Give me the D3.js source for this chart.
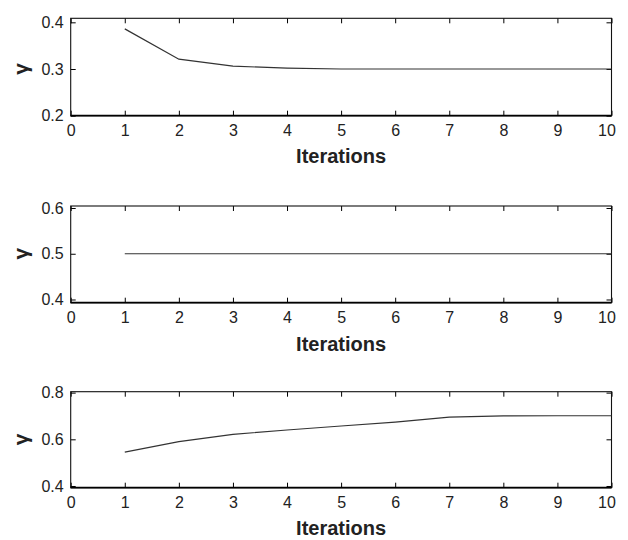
<!DOCTYPE html>
<html>
<head>
<meta charset="utf-8">
<script src="https://cdn.jsdelivr.net/npm/d3@7"></script>
<style>
  body { margin: 0; background: #fff; }
  text { font-family: "Liberation Sans", Arial, sans-serif; }
</style>
</head>
<body>
<svg id="chart" width="628" height="540"></svg>
<script>
// iterations along x
var iters = [1, 2, 3, 4, 5, 6, 7, 8, 9, 10];
var xTicks = [0, 1, 2, 3, 4, 5, 6, 7, 8, 9, 10];

// gamma per iteration, one series per panel
var gamma1 = [0.386, 0.321, 0.306, 0.302, 0.300, 0.300, 0.300, 0.300, 0.300, 0.300];
var gamma2 = [0.5, 0.5, 0.5, 0.5, 0.5, 0.5, 0.5, 0.5, 0.5, 0.5];
var gamma3 = [0.545, 0.590, 0.621, 0.640, 0.657, 0.674, 0.695, 0.700, 0.701, 0.701];

var yTicks1 = [0.2, 0.3, 0.4];
var yTicks2 = [0.4, 0.5, 0.6];
var yTicks3 = [0.4, 0.6, 0.8];

var panels = [
  {vals: gamma1, ticks: yTicks1, dom: [0.2, 0.4086], top: 18.3, bottom: 115.7, lab: 47.5},
  {vals: gamma2, ticks: yTicks2, dom: [0.393, 0.6044], top: 206, bottom: 302.7, lab: 48.5},
  {vals: gamma3, ticks: yTicks3, dom: [0.3927, 0.804], top: 391.7, bottom: 487.7, lab: 47.5}
];

var svg = d3.select("#chart");
var left = 70.7, right = 611.5;

var x = d3.scaleLinear().domain([0, 10]).range([left, right]);
var fmt = d3.format(".1f");

panels.forEach(function(p) {
  var y = d3.scaleLinear().domain(p.dom).range([p.bottom, p.top]);
  var g = svg.append("g");

  // ticks inward on all four sides
  var xa = g.append("g").attr("transform", "translate(0," + p.bottom + ")")
    .call(d3.axisBottom(x).tickValues(xTicks).tickSize(-5).tickPadding(9).tickFormat(d3.format("d")))
    .call(function(a) { a.select(".domain").remove(); });
  g.append("g").attr("transform", "translate(0," + p.top + ")")
    .call(d3.axisTop(x).tickValues(xTicks).tickSize(-5).tickFormat(""))
    .call(function(a) { a.select(".domain").remove(); });
  g.append("g").attr("transform", "translate(" + left + ",0)")
    .call(d3.axisLeft(y).tickValues(p.ticks).tickSize(-5).tickPadding(7).tickFormat(fmt))
    .call(function(a) { a.select(".domain").remove(); });
  g.append("g").attr("transform", "translate(" + right + ",0)")
    .call(d3.axisRight(y).tickValues(p.ticks).tickSize(-5).tickFormat(""))
    .call(function(a) { a.select(".domain").remove(); });

  g.selectAll(".tick line").attr("stroke", "#000").attr("stroke-width", 1);
  g.selectAll(".tick text").attr("font-size", 16).attr("fill", "#222")
    .style("font-family", "'Liberation Sans', Arial, sans-serif");
  // last label sits a bit inside the right edge
  xa.selectAll(".tick text").filter(function(d) { return d === 10; }).attr("dx", -5);

  // frame
  g.append("rect")
    .attr("x", left).attr("y", p.top)
    .attr("width", right - left).attr("height", p.bottom - p.top)
    .attr("fill", "none").attr("stroke", "#111").attr("stroke-width", 1.1);
  g.append("line")
    .attr("x1", left).attr("x2", right).attr("y1", p.bottom).attr("y2", p.bottom)
    .attr("stroke", "#000").attr("stroke-width", 1.8);

  var line = d3.line()
    .x(function(d, i) { return x(iters[i]); })
    .y(function(d) { return y(d); });
  g.append("path").datum(p.vals)
    .attr("d", line)
    .attr("fill", "none").attr("stroke", "#333").attr("stroke-width", 1.2);

  g.append("text")
    .attr("x", (left + right) / 2).attr("y", p.bottom + p.lab)
    .attr("text-anchor", "middle")
    .attr("font-size", 20).attr("font-weight", "bold").attr("fill", "#222")
    .text("Iterations");

  g.append("text")
    .attr("transform", "translate(28," + y(p.ticks[1]) + ") rotate(-90)")
    .attr("text-anchor", "middle")
    .attr("font-size", 21).attr("font-weight", "bold").attr("fill", "#222")
    .text("γ");
});
</script>
</body>
</html>
